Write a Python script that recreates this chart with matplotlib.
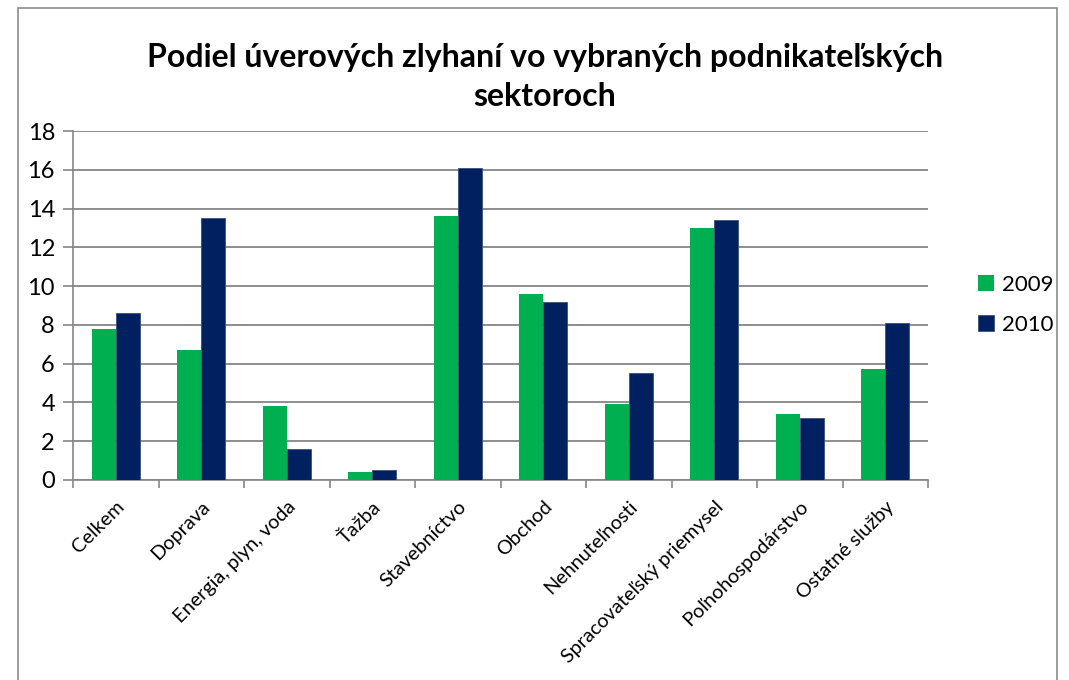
import numpy as np
import matplotlib.pyplot as plt
from matplotlib.patches import Rectangle

# hodnoty odčítané z grafu
sektory = ['Celkem', 'Doprava', 'Energia, plyn, voda', 'Ťažba', 'Stavebníctvo',
           'Obchod', 'Nehnuteľnosti', 'Spracovateľský priemysel',
           'Poľnohospodárstvo', 'Ostatné služby']
r2009 = [7.8, 6.7, 3.8, 0.4, 13.6, 9.6, 3.9, 13.0, 3.4, 5.7]
r2010 = [8.6, 13.5, 1.6, 0.5, 16.1, 9.2, 5.5, 13.4, 3.2, 8.1]
roky = ['2009', '2010']
farby = ['#00B050', '#002060']

plt.rcParams['font.family'] = ['Lato', 'DejaVu Sans']

fig = plt.figure(figsize=(10.69, 6.8), dpi=100)
W, H = 1069, 680
ax = fig.add_axes([73 / W, 1 - 480 / H, (928 - 73) / W, (480 - 131) / H])

# rámček grafu
fig.patches.append(Rectangle((18 / W, -0.05), (1057 - 18) / W, 1.05 - 8 / H,
                             transform=fig.transFigure, fill=False,
                             edgecolor='#8c8c8c', linewidth=1.2))

x = np.arange(len(sektory))
w = 0.28
ax.bar(x - w / 2, r2009, w, color=farby[0], label=roky[0], zorder=3)
ax.bar(x + w / 2, r2010, w, color=farby[1], label=roky[1], zorder=3,
       edgecolor='#3a4f80', linewidth=0.6)

ax.set_xlim(-0.5, len(sektory) - 0.5)
ax.set_ylim(0, 18)
ax.set_yticks(range(0, 19, 2))
ax.yaxis.grid(True, color='#868686', linewidth=1.3, zorder=0)
ax.tick_params(axis='y', labelsize=17, length=7, color='#868686', width=1.2, pad=6)

ax.set_xticks(np.arange(-0.5, len(sektory), 1), minor=False)
ax.set_xticklabels([])
ax.set_xticks(x, minor=True)
ax.set_xticklabels(sektory, minor=True, rotation=45, ha='right',
                   rotation_mode='anchor', fontsize=14.3)
ax.tick_params(axis='x', which='minor', length=0, pad=13)
ax.tick_params(axis='x', which='major', length=6, color='#868686', width=1.2)

for s in ['top', 'right']:
    ax.spines[s].set_visible(False)
for s in ['left', 'bottom']:
    ax.spines[s].set_color('#868686')
    ax.spines[s].set_linewidth(1.2)

fig.text(545 / W, 1 - 77 / H,
         'Podiel úverových zlyhaní vo vybraných podnikateľských\nsektoroch',
         ha='center', va='center', fontsize=23, fontweight='bold',
         linespacing=1.45)

fig.legend(loc='center left', bbox_to_anchor=(958 / W, 1 - 305 / H),
           frameon=False, fontsize=16, handlelength=0.7, handleheight=0.7,
           handletextpad=0.4, labelspacing=0.9)

fig.savefig('out.png', dpi=100)
